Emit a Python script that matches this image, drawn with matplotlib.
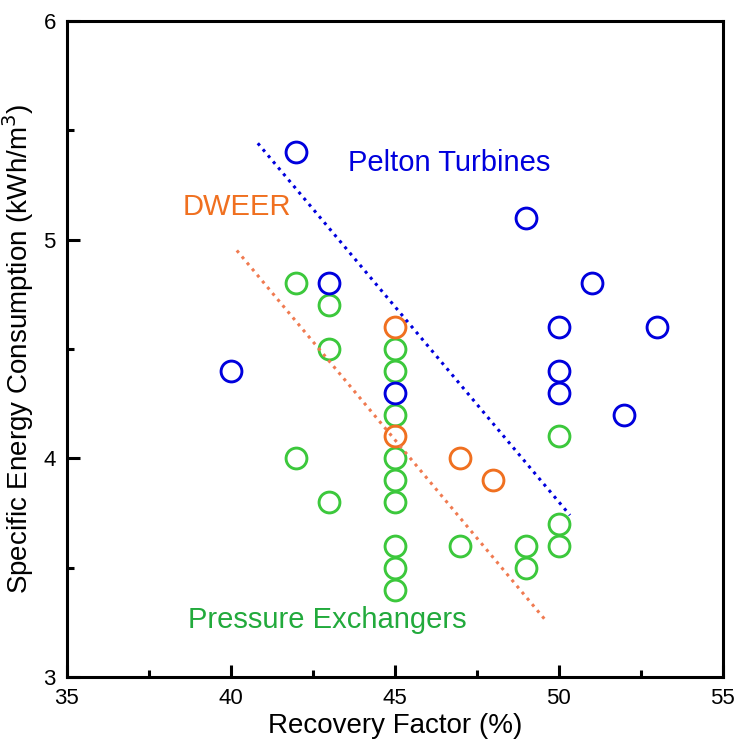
import matplotlib
matplotlib.use("Agg")
import matplotlib.pyplot as plt
from matplotlib.ticker import MultipleLocator

plt.rcParams['font.family'] = ['Liberation Sans', 'DejaVu Sans']

# Pelton turbines
pelton_x = [42, 43, 40, 45, 49, 51, 50, 53, 50, 50, 52]
pelton_y = [5.4, 4.8, 4.4, 4.3, 5.1, 4.8, 4.6, 4.6, 4.4, 4.3, 4.2]
# DWEER
dweer_x = [45, 45, 47, 48]
dweer_y = [4.6, 4.1, 4.0, 3.9]
# Pressure exchangers
px_x = [42, 43, 43, 42, 43, 45, 45, 45, 45, 45, 45, 45, 45, 45, 47, 49, 49, 50, 50, 50]
px_y = [4.8, 4.7, 4.5, 4.0, 3.8, 4.5, 4.4, 4.2, 4.0, 3.9, 3.8, 3.6, 3.5, 3.4, 3.6, 3.6, 3.5, 3.7, 3.6, 4.1]

# trend lines (endpoints)
pelton_trend_x = [40.82, 50.34]
pelton_trend_y = [5.44, 3.74]
dweer_trend_x = [40.18, 49.65]
dweer_trend_y = [4.95, 3.25]

x_ticks = [35, 40, 45, 50, 55]
y_ticks = [3, 4, 5, 6]

BLUE = '#0000DD'
ORANGE = '#F07020'
GREEN = '#3CC83C'

fig = plt.figure(figsize=(7.36, 7.40), dpi=100)
ax = fig.add_axes([0.091, 0.085, 0.891, 0.887])

mkw = dict(linestyle='none', marker='o', markersize=15, markerfacecolor='none', markeredgewidth=2.1)
ax.plot(px_x, px_y, markeredgecolor=GREEN, **mkw)
ax.plot(dweer_x, dweer_y, markeredgecolor=ORANGE, **mkw)
ax.plot(pelton_x, pelton_y, markeredgecolor=BLUE, **mkw)

ax.plot(pelton_trend_x, pelton_trend_y, color=BLUE, lw=2.2, linestyle=(0, (1, 1.6)))
ax.plot(dweer_trend_x, dweer_trend_y, color='#F07A50', lw=2.2, linestyle=(0, (1, 1.6)))

ax.text(43.57, 5.35, 'Pelton Turbines', color=BLUE, fontsize=21, va='center', ha='left')
ax.text(38.54, 5.15, 'DWEER', color=ORANGE, fontsize=21, va='center', ha='left')
ax.text(38.69, 3.26, 'Pressure Exchangers', color='#22AA3C', fontsize=21, va='center', ha='left')

ax.set_xlim(35, 55)
ax.set_ylim(3, 6)
ax.set_xticks(x_ticks)
ax.set_yticks(y_ticks)
ax.set_xticklabels([str(v) for v in x_ticks])
ax.set_yticklabels([str(v) for v in y_ticks])
ax.xaxis.set_minor_locator(MultipleLocator(2.5))
ax.yaxis.set_minor_locator(MultipleLocator(0.5))
ax.tick_params(which='major', direction='in', length=9, width=2.2, labelsize=16, pad=8)
ax.tick_params(which='minor', direction='in', length=5, width=2.2)
ax.tick_params(top=False, right=False, which='both')
for s in ax.spines.values():
    s.set_linewidth(2.2)

ax.set_xlabel('Recovery Factor (%)', fontsize=20, labelpad=3)
ax.set_ylabel('Specific Energy Consumption (kWh/m$^3$)', fontsize=20, labelpad=2)
ax.yaxis.set_label_coords(-0.047, 0.5)

fig.savefig('out.png', dpi=100)
